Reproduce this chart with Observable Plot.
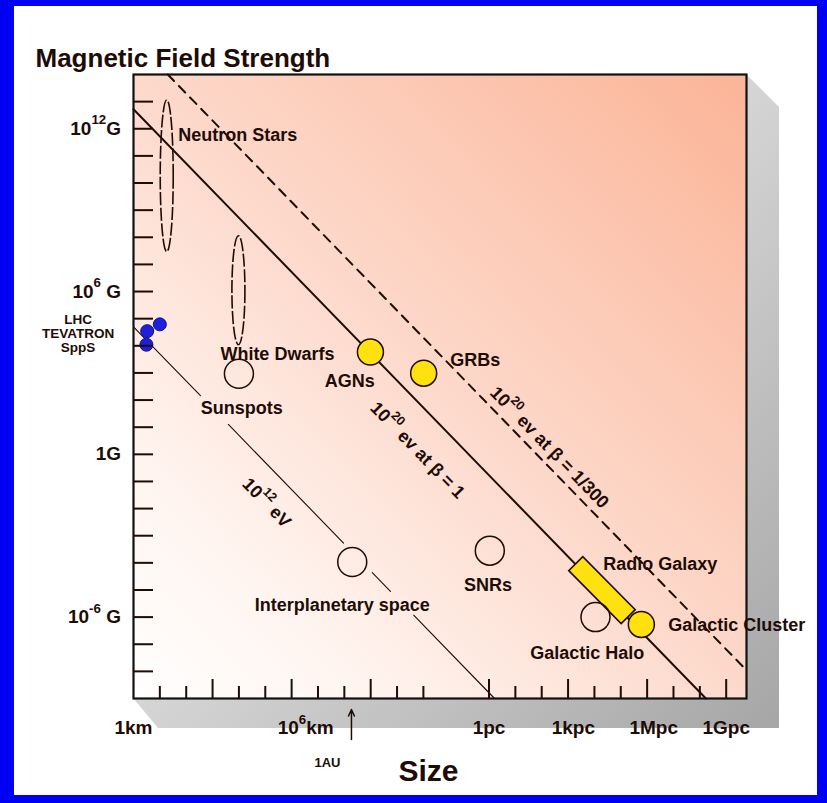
<!DOCTYPE html>
<html><head><meta charset="utf-8">
<script src="https://cdn.jsdelivr.net/npm/d3@7"></script>
<script src="https://cdn.jsdelivr.net/npm/@observablehq/plot@0.6"></script>
<style>
html,body{margin:0;padding:0;}
body{width:827px;height:803px;background:#0000f4;position:relative;overflow:hidden;}
#panel{position:absolute;left:14px;top:6px;width:803px;height:789px;background:#fff;}
#chart{position:absolute;left:0;top:0;}
</style></head><body><div id="panel"></div><div id="chart"></div>
<script>
// ---------- DATA (log10 of size in km, log10 of field in gauss) ----------
// Objects drawn as circles
const objNames  = ["Sunspots", "Interplanetary space", "SNRs", "Galactic Halo", "AGNs", "GRBs", "Galactic Cluster"];
const objLogR   = [4.00, 8.30, 13.52, 17.53, 8.99, 11.01, 19.27];
const objLogB   = [2.97, -3.97, -3.55, -6.00, 3.77, 2.99, -6.27];
const objFilled = [false, false, false, false, true, true, true];

// Objects drawn as a range (ellipse)
const rangeNames    = ["Neutron Stars", "White Dwarfs"];
const rangeLogR     = [1.28, 4.00];
const rangeLogBLow  = [7.45, 4.02];
const rangeLogBHigh = [13.04, 8.04];

// Radio galaxy: a band along the limit line
const radioLogR = [16.80, 18.79];
const radioLogB = [-4.05, -6.00];

// Accelerators
const colliderNames = ["LHC", "TEVATRON", "SppS"];
const colliderLogR  = [1.00, 0.52, 0.49];
const colliderLogB  = [4.79, 4.54, 4.04];

// Hillas limit lines: endpoints [logR, logB]
const betaOneLine  = [[0.00, 12.72], [21.72, -9.00]];
const betaSlowLine = [[1.30, 14.00], [23.26, -7.96]];
const teVLineSegments = [
  [[0.00, 4.70], [2.54, 2.16]],
  [[3.60, 1.10], [7.97, -3.27]],
  [[9.06, -4.36], [9.75, -5.05]],
  [[10.63, -5.93], [13.70, -9.00]]
];

// Labels
const labelText = ["Neutron Stars", "White Dwarfs", "Sunspots", "AGNs", "GRBs", "SNRs", "Interplanetary space", "Radio Galaxy", "Galactic Cluster", "Galactic Halo"];
const labelLogR = [3.96, 5.46, 4.11, 8.21, 12.97, 13.45, 7.92, 19.99, 22.89, 17.22];
const labelLogB = [11.75, 3.705, 1.715, 2.68, 3.46, -4.835, -5.57, -4.035, -6.31, -7.32];

const lineLabelText = ["10^20^ ev at β = 1", "10^20^ ev at β = 1/300", "10^12^ eV"];
const lineLabelLogR = [10.78, 15.78, 5.05];
const lineLabelLogB = [0.15, 0.25, -1.79];

// Axes
const pcLog = Math.log10(3.086e13);               // 1 pc in km
const kmTicksMajor = [3, 6, 9];
const kmTicksMinor = [1, 2, 4, 5, 7, 8, 10, 11];
const pcTicksMajor = [0, 3, 6, 9];
const pcTicksMinor = [1, 2, 4, 5, 7, 8];
const xTickLabels    = ["1km", "1pc", "1kpc", "1Mpc", "1Gpc"];
const xTickLabelLogR = [0, pcLog, pcLog + 3.2, pcLog + 6.25, pcLog + 9];
const xPowLabel      = "10^6^km";
const xPowLabelLogR  = 6;
const yTicks = d3.range(-8, 14);
const yTickLabels    = ["10^12^G", "10^6^ G", "1G", "10^-6^ G"];
const yTickLabelLogB = [12, 6, 0, -6];
const auLogR = 8.27;

// ---------- CHART ----------
const X = d => 10 ** d;
const ink = "#1e0c06";
const font = "'Liberation Sans', Arial, Helvetica, sans-serif";
const yellow = "#ffe10f";

function backdrop(index, scales, values, dim) {
  const L = dim.marginLeft, T = dim.marginTop, R = dim.width - dim.marginRight, B = dim.height - dim.marginBottom;
  const g = d3.create("svg:g");
  const defs = g.append("defs");
  const bg = defs.append("linearGradient").attr("id", "bgGrad").attr("x1", 0).attr("y1", 1).attr("x2", 1).attr("y2", 0);
  [[0, "#ffffff"], [0.2, "#fff4ef"], [0.5, "#fdd9cb"], [1, "#fbb497"]].forEach(([o, c]) => bg.append("stop").attr("offset", o).attr("stop-color", c));
  const sh = defs.append("linearGradient").attr("id", "shGrad").attr("x1", 0).attr("y1", 0).attr("x2", 1).attr("y2", 1);
  [[0, "#f4f4f4"], [0.5, "#d4d4d4"], [1, "#a6a6a6"]].forEach(([o, c]) => sh.append("stop").attr("offset", o).attr("stop-color", c));
  g.append("path").attr("d", `M${L},${B}L${L + 25},${B + 30}L${R + 33},${B + 30}L${R + 33},${T + 33}L${R},${T}Z`).attr("fill", "url(#shGrad)");
  g.append("rect").attr("x", L).attr("y", T).attr("width", R - L).attr("height", B - T).attr("fill", "url(#bgGrad)");
  return g.node();
}

function ellipses(index, {x, y}) {
  const g = d3.create("svg:g").attr("fill", "none").attr("stroke", ink).attr("stroke-width", 1.6).attr("stroke-dasharray", "13,2.5");
  rangeLogR.forEach((r, i) => {
    const y1 = y(X(rangeLogBHigh[i])), y2 = y(X(rangeLogBLow[i]));
    g.append("ellipse").attr("cx", x(X(r))).attr("cy", (y1 + y2) / 2).attr("rx", 6.5).attr("ry", (y2 - y1) / 2);
  });
  return g.node();
}

function radioBar(index, {x, y}) {
  const x1 = x(X(radioLogR[0])), y1 = y(X(radioLogB[0])), x2 = x(X(radioLogR[1])), y2 = y(X(radioLogB[1]));
  const len = Math.hypot(x2 - x1, y2 - y1), w = 9.9;
  const nx = -(y2 - y1) / len * w, ny = (x2 - x1) / len * w;
  return d3.create("svg:path")
    .attr("d", `M${x1 + nx},${y1 + ny}L${x2 + nx},${y2 + ny}L${x2 - nx},${y2 - ny}L${x1 - nx},${y1 - ny}Z`)
    .attr("fill", yellow).attr("stroke", ink).attr("stroke-width", 1.6).node();
}

const objIdx = d3.range(objNames.length);
const chart = Plot.plot({
  width: 827, height: 803,
  marginLeft: 133, marginRight: 81, marginTop: 74, marginBottom: 105,
  style: {background: "transparent", fontFamily: font, fontWeight: "bold", color: ink},
  x: {type: "log", domain: [1, 10 ** 23.26], label: null},
  y: {type: "log", domain: [1e-9, 1e14], label: null},
  marks: [
    backdrop,
    Plot.line(betaOneLine, {x: d => X(d[0]), y: d => X(d[1]), stroke: ink, strokeWidth: 2}),
    Plot.line(betaSlowLine, {x: d => X(d[0]), y: d => X(d[1]), stroke: ink, strokeWidth: 2, strokeDasharray: "9,7"}),
    ...teVLineSegments.map(seg => Plot.line(seg, {x: d => X(d[0]), y: d => X(d[1]), stroke: ink, strokeWidth: 1.1})),
    ellipses,
    radioBar,
    Plot.dot(objIdx.filter(i => !objFilled[i]), {x: i => X(objLogR[i]), y: i => X(objLogB[i]), r: 14.5, fill: "none", stroke: ink, strokeWidth: 1.5}),
    Plot.dot(objIdx.filter(i => objFilled[i]), {x: i => X(objLogR[i]), y: i => X(objLogB[i]), r: 13, fill: yellow, stroke: ink, strokeWidth: 1.5}),
    Plot.dot(colliderNames, {x: (d, i) => X(colliderLogR[i]), y: (d, i) => X(colliderLogB[i]), r: 6.5, fill: "#2020dc", stroke: "#10108a", strokeWidth: 1}),
    Plot.frame({stroke: "#111", strokeWidth: 2.2}),
    Plot.axisY(yTicks.map(X), {anchor: "left", tickSize: 20, dx: 20, fill: "none", label: null, stroke: ink, strokeWidth: 2}),
    Plot.axisX([...kmTicksMajor.map(X), ...pcTicksMajor.map(k => X(pcLog + k))], {anchor: "bottom", tickSize: 19, dy: -19, fill: "none", label: null, stroke: ink, strokeWidth: 2}),
    Plot.axisX([...kmTicksMinor.map(X), ...pcTicksMinor.map(k => X(pcLog + k))], {anchor: "bottom", tickSize: 12, dy: -12, fill: "none", label: null, stroke: ink, strokeWidth: 2}),
    Plot.text(xTickLabels, {x: (d, i) => X(xTickLabelLogR[i]), frameAnchor: "bottom", dy: 22, lineAnchor: "top", fontSize: 19}),
    Plot.text([xPowLabel], {x: X(xPowLabelLogR), frameAnchor: "bottom", dx: 14, dy: 22, lineAnchor: "top", fontSize: 19}),
    Plot.text(yTickLabels, {y: (d, i) => X(yTickLabelLogB[i]), frameAnchor: "left", dx: -12.5, textAnchor: "end", fontSize: 19}),
    Plot.text(labelText, {x: (d, i) => X(labelLogR[i]), y: (d, i) => X(labelLogB[i]), fontSize: 18}),
    Plot.text(lineLabelText, {x: (d, i) => X(lineLabelLogR[i]), y: (d, i) => X(lineLabelLogB[i]), rotate: 45.8, fontSize: 18}),
    Plot.text([colliderNames.join("\n")], {x: X(-2.105), y: X(4.45), fontSize: 13.5, lineHeight: 1.06}),
    Plot.arrow([auLogR], {x1: d => X(d), x2: d => X(d), y1: X(-10.51), y2: X(-9.41), stroke: ink, strokeWidth: 1.5, headLength: 7, headAngle: 50}),
    Plot.text(["1AU"], {x: X(7.36), y: X(-11.37), fontSize: 13}),
    Plot.text(["Magnetic Field Strength"], {frameAnchor: "top-left", dx: -98, dy: -7.3, textAnchor: "start", lineAnchor: "bottom", fontSize: 26}),
    Plot.text(["Size"], {x: X(11.19), frameAnchor: "bottom", dy: 82.7, lineAnchor: "bottom", fontSize: 30})
  ]
});

// superscripts: "a^b^c" -> a, raised b, c
function supify(root) {
  const SZ = 0.7, UP = 0.55;
  root.querySelectorAll("text").forEach(t => {
    const s = t.textContent;
    if (!s.includes("^")) return;
    const parts = s.split("^");
    t.textContent = "";
    parts.forEach((p, i) => {
      if (p === "" && i % 2 === 0) return;
      const ts = document.createElementNS("http://www.w3.org/2000/svg", "tspan");
      if (i % 2 === 1) { ts.setAttribute("font-size", SZ + "em"); ts.setAttribute("dy", (-UP / SZ).toFixed(3) + "em"); }
      else if (i > 0) ts.setAttribute("dy", UP + "em");
      ts.textContent = p;
      t.appendChild(ts);
    });
  });
}
supify(chart);
document.getElementById("chart").appendChild(chart);
</script>
</body></html>
